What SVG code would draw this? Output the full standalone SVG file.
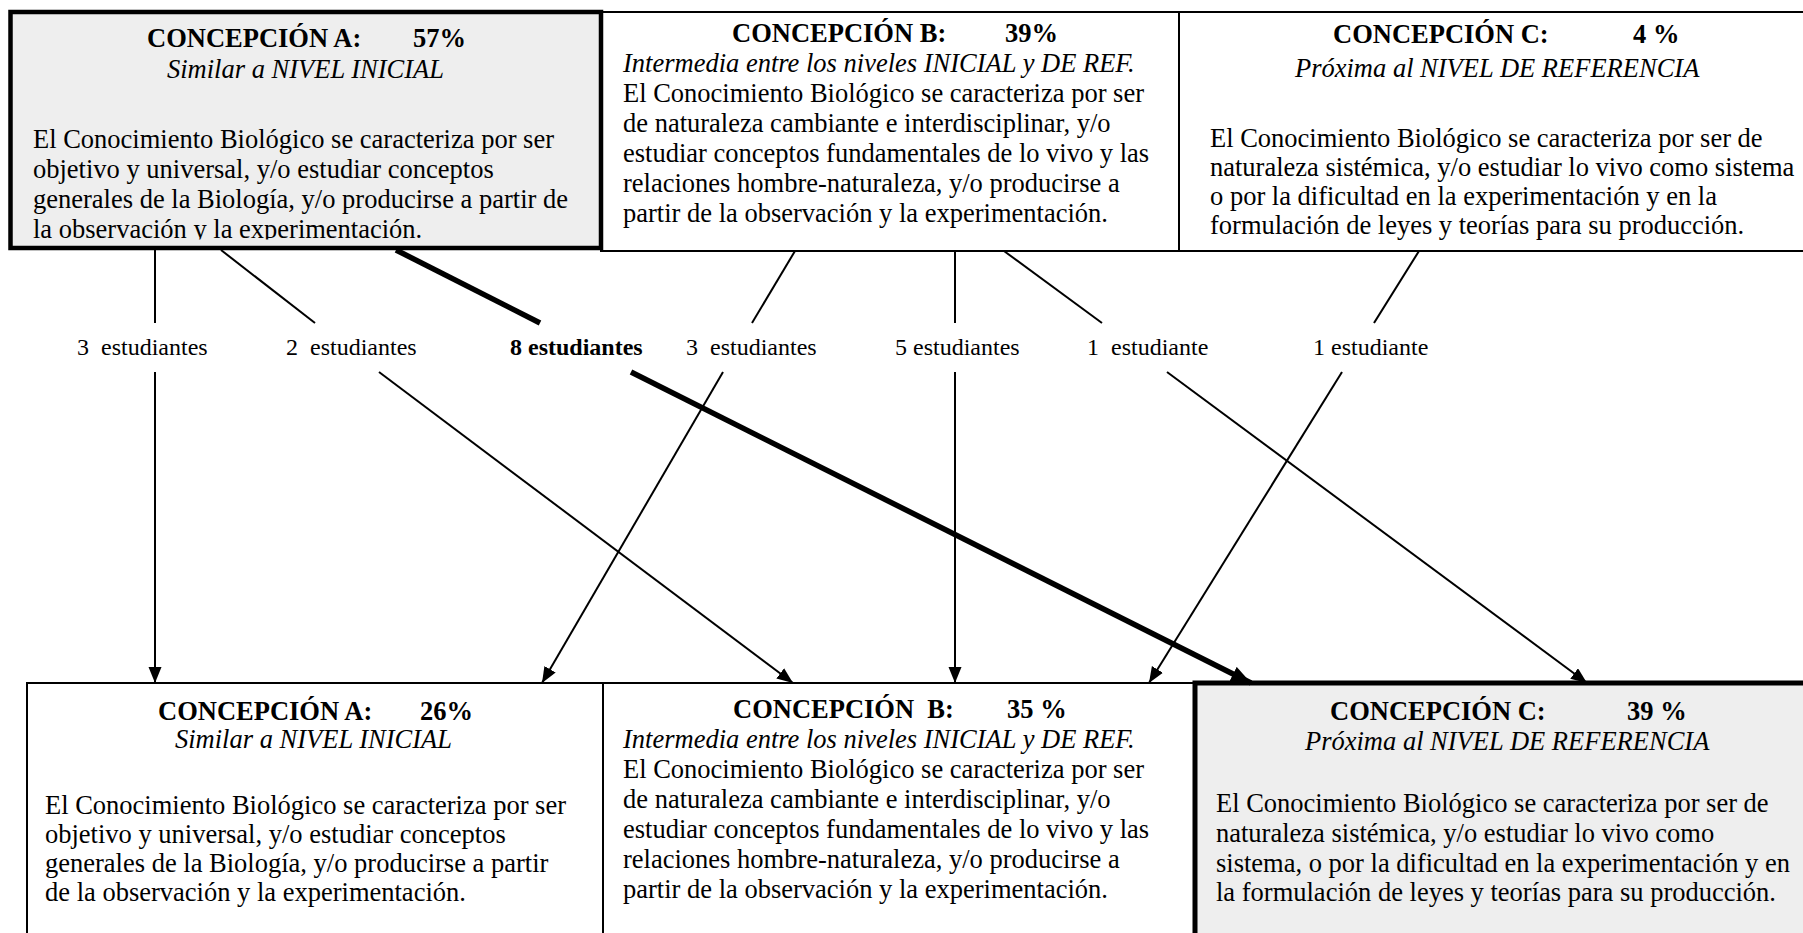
<svg xmlns="http://www.w3.org/2000/svg" width="1803" height="933" viewBox="0 0 1803 933">
  <style>
    .box { fill: #ffffff; stroke: #000000; stroke-width: 2; }
    .hl { fill: #eeeeee; stroke: #000000; stroke-width: 4.5; }
    .t { font-family: "Liberation Serif", "Times New Roman", serif; font-size: 26.5px; fill: #000000; }
    .h { font-weight: bold; }
    .i { font-style: italic; }
    .lbl { font-family: "Liberation Serif", "Times New Roman", serif; font-size: 24px; fill: #000000; }
    .ln { stroke: #000000; stroke-width: 2; fill: none; }
    .thick { stroke: #000000; stroke-width: 5.5; fill: none; }
  </style>
  <defs>
    <marker id="arr" markerUnits="userSpaceOnUse" markerWidth="18" markerHeight="14" refX="16" refY="6.5" orient="auto">
      <path d="M0,0 L16,6.5 L0,13 z" fill="#000000"/>
    </marker>
    <marker id="arrBig" markerUnits="userSpaceOnUse" markerWidth="22" markerHeight="18" refX="20" refY="8" orient="auto">
      <path d="M0,0 L20,8 L0,16 z" fill="#000000"/>
    </marker>
    <!-- text frame of the highlighted upper box cuts off the last line's descenders -->
    <clipPath id="clipA">
      <rect x="12" y="14" width="587" height="225.5"/>
    </clipPath>
  </defs>

  <rect width="1803" height="933" fill="#ffffff"/>

  <!-- upper row: before -->
  <g id="pre-b">
    <rect class="box" x="601" y="12" width="578" height="239"/>
    <text class="t h" y="42"><tspan x="732">CONCEPCIÓN B:</tspan><tspan x="1005">39%</tspan></text>
    <text class="t i" x="623" y="72">Intermedia entre los niveles INICIAL y DE REF.</text>
    <text class="t" x="623" y="102">El Conocimiento Biológico se caracteriza por ser</text>
    <text class="t" x="623" y="132">de naturaleza cambiante e interdisciplinar, y/o</text>
    <text class="t" x="623" y="162">estudiar conceptos fundamentales de lo vivo y las</text>
    <text class="t" x="623" y="192">relaciones hombre-naturaleza, y/o producirse a</text>
    <text class="t" x="623" y="222">partir de la observación y la experimentación.</text>
  </g>

  <g id="pre-c">
    <rect class="box" x="1179" y="12" width="660" height="239"/>
    <text class="t h" y="43"><tspan x="1333">CONCEPCIÓN C:</tspan><tspan x="1633">4 %</tspan></text>
    <text class="t i" x="1295" y="77">Próxima al NIVEL DE REFERENCIA</text>
    <text class="t" x="1210" y="147">El Conocimiento Biológico se caracteriza por ser de</text>
    <text class="t" x="1210" y="176">naturaleza sistémica, y/o estudiar lo vivo como sistema</text>
    <text class="t" x="1210" y="205">o por la dificultad en la experimentación y en la</text>
    <text class="t" x="1210" y="234">formulación de leyes y teorías para su producción.</text>
  </g>

  <g id="pre-a">
    <rect class="hl" x="10.5" y="12" width="590.5" height="236"/>
    <g clip-path="url(#clipA)">
      <text class="t h" y="47"><tspan x="147">CONCEPCIÓN A:</tspan><tspan x="413">57%</tspan></text>
      <text class="t i" x="167" y="78">Similar a NIVEL INICIAL</text>
      <text class="t" x="33" y="148">El Conocimiento Biológico se caracteriza por ser</text>
      <text class="t" x="33" y="178">objetivo y universal, y/o estudiar conceptos</text>
      <text class="t" x="33" y="208">generales de la Biología, y/o producirse a partir de</text>
      <text class="t" x="33" y="238">la observación y la experimentación.</text>
    </g>
  </g>

  <!-- lower row: after -->
  <g id="post-a">
    <rect class="box" x="27" y="683" width="576" height="300"/>
    <text class="t h" y="720"><tspan x="158">CONCEPCIÓN A:</tspan><tspan x="420">26%</tspan></text>
    <text class="t i" x="175" y="748">Similar a NIVEL INICIAL</text>
    <text class="t" x="45" y="814">El Conocimiento Biológico se caracteriza por ser</text>
    <text class="t" x="45" y="843">objetivo y universal, y/o estudiar conceptos</text>
    <text class="t" x="45" y="872">generales de la Biología, y/o producirse a partir</text>
    <text class="t" x="45" y="901">de la observación y la experimentación.</text>
  </g>

  <g id="post-b">
    <rect class="box" x="603" y="683" width="592" height="300"/>
    <text class="t h" y="718" xml:space="preserve"><tspan x="733">CONCEPCIÓN  B:</tspan><tspan x="1007">35 %</tspan></text>
    <text class="t i" x="623" y="748">Intermedia entre los niveles INICIAL y DE REF.</text>
    <text class="t" x="623" y="778">El Conocimiento Biológico se caracteriza por ser</text>
    <text class="t" x="623" y="808">de naturaleza cambiante e interdisciplinar, y/o</text>
    <text class="t" x="623" y="838">estudiar conceptos fundamentales de lo vivo y las</text>
    <text class="t" x="623" y="868">relaciones hombre-naturaleza, y/o producirse a</text>
    <text class="t" x="623" y="898">partir de la observación y la experimentación.</text>
  </g>

  <g id="post-c">
    <rect class="hl" x="1195" y="683" width="640" height="300" style="stroke-width:5"/>
    <text class="t h" y="720"><tspan x="1330">CONCEPCIÓN C:</tspan><tspan x="1627">39 %</tspan></text>
    <text class="t i" x="1305" y="750">Próxima al NIVEL DE REFERENCIA</text>
    <text class="t" x="1216" y="812">El Conocimiento Biológico se caracteriza por ser de</text>
    <text class="t" x="1216" y="842">naturaleza sistémica, y/o estudiar lo vivo como</text>
    <text class="t" x="1216" y="872">sistema, o por la dificultad en la experimentación y en</text>
    <text class="t" x="1216" y="901">la formulación de leyes y teorías para su producción.</text>
  </g>

  <!-- transitions between the two rows -->
  <g id="connectors">
    <line class="ln" x1="155" y1="250" x2="155" y2="323"/>
    <line class="ln" x1="155" y1="372" x2="155" y2="683" marker-end="url(#arr)"/>

    <line class="ln" x1="221" y1="250" x2="315" y2="323"/>
    <line class="ln" x1="379" y1="372" x2="793" y2="683" marker-end="url(#arr)"/>

    <line class="thick" x1="396" y1="250" x2="540" y2="323"/>
    <line class="thick" x1="631" y1="372" x2="1251" y2="683" marker-end="url(#arrBig)"/>

    <line class="ln" x1="795" y1="251" x2="752" y2="323"/>
    <line class="ln" x1="723" y1="372" x2="542" y2="683" marker-end="url(#arr)"/>

    <line class="ln" x1="955" y1="251" x2="955" y2="323"/>
    <line class="ln" x1="955" y1="372" x2="955" y2="683" marker-end="url(#arr)"/>

    <line class="ln" x1="1004" y1="251" x2="1102" y2="323"/>
    <line class="ln" x1="1167" y1="372" x2="1587" y2="683" marker-end="url(#arr)"/>

    <line class="ln" x1="1419" y1="251" x2="1374" y2="323"/>
    <line class="ln" x1="1342" y1="372" x2="1149" y2="683" marker-end="url(#arr)"/>
  </g>

  <g id="labels">
    <text class="lbl" x="77" y="355" xml:space="preserve">3  estudiantes</text>
    <text class="lbl" x="286" y="355" xml:space="preserve">2  estudiantes</text>
    <text class="lbl h" x="510" y="355">8 estudiantes</text>
    <text class="lbl" x="686" y="355" xml:space="preserve">3  estudiantes</text>
    <text class="lbl" x="895" y="355">5 estudiantes</text>
    <text class="lbl" x="1087" y="355" xml:space="preserve">1  estudiante</text>
    <text class="lbl" x="1313" y="355">1 estudiante</text>
  </g>
</svg>
